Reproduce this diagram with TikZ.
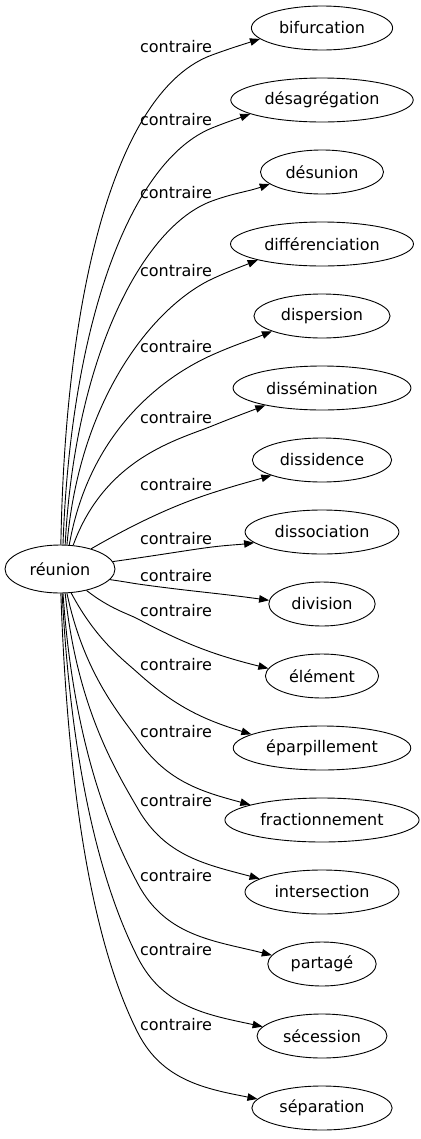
\documentclass[tikz,border=0pt]{standalone}
\usepackage{fontspec}
\setmainfont{DejaVu Sans}
\usetikzlibrary{shapes.geometric, arrows.meta}

\begin{document}
\begin{tikzpicture}[x=1bp, y=1bp,
  every node/.style={font=\fontsize{16bp}{19bp}\selectfont},
  word/.style={ellipse, draw, line width=0.9bp, inner xsep=7bp, minimum height=44bp},
  link/.style={draw, line width=0.9bp, -{Triangle[length=10bp, width=7.5bp]}},
  rel/.style={inner sep=0pt}]
  \useasboundingbox (0,0) rectangle (420,-1139);
  \node[word, minimum width=110bp, minimum height=48bp] (root) at (60,-569) {réunion};
  \foreach \n/\t/\y in {bif/bifurcation/28, desag/désagrégation/100, desun/désunion/172,
      diff/différenciation/244, disp/dispersion/316, dissem/dissémination/388,
      dissid/dissidence/460, dissoc/dissociation/532, divi/division/604, elem/élément/676,
      eparp/éparpillement/748, fract/fractionnement/820, inter/intersection/892,
      part/partagé/964, seces/sécession/1036, separ/séparation/1108}
    \node[word] (\n) at (322,-\y) {\t};
  % one label and one curved link per child
  \foreach \n/\sa/\oa/\mx/\ly/\mt/\ia/\ea in {bif/88/89/212/47/20/18/190, desag/83/88/212/120/22/20/191,
      desun/78/87/212/193/20/19/193, diff/74/85/212/271/25/22/194, disp/69/80/212/347/24/22/197,
      dissem/61/70/212/418/22/21/197, dissid/33/30/212/485/18/16/197, dissoc/8/8/212/539/7/7/189,
      divi/-12/-8/138/576/-8/-8/176, elem/-39/-38/138/611/-28/-14/172, eparp/-65/-62/138/665/-42/-17/169,
      fract/-74/-78/138/732/-55/-15/168, inter/-78/-84/138/801/-60/-15/168, part/-83/-86/138/876/-62/-14/170,
      seces/-85/-87/138/950/-63/-12/171, separ/-88/-88/138/1025/-63/-11/172} {
    \pgfmathsetmacro\mi{\mt+180}
    \pgfmathsetmacro\ei{\ia+180}
    \coordinate (m\n) at (\mx,-\ly-8);
    \node[rel] (l\n) at (176,-\ly) {contraire};
    \draw[link] (root.\sa) to[out=\oa, in=\mi, out looseness=1.3, in looseness=0.5] (m\n)
      to[out=\mt, in=\ei] (\n.\ea);
  }
\end{tikzpicture}
\end{document}
